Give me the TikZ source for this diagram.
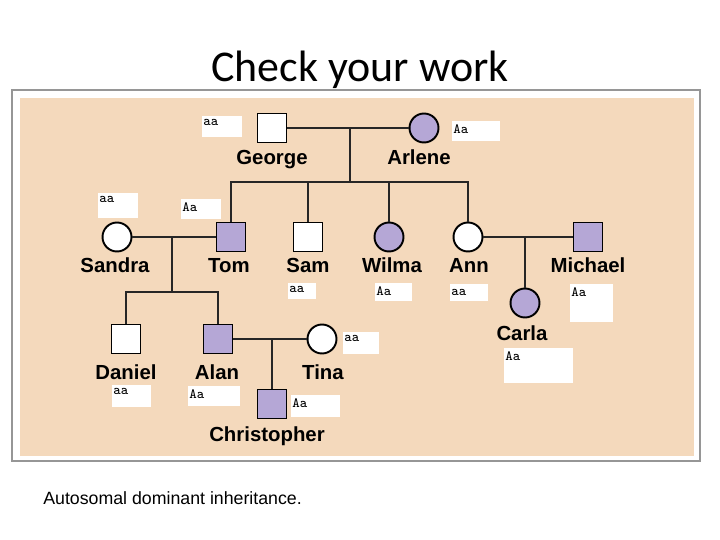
\documentclass[tikz,border=0pt]{standalone}
\usepackage{fontspec}
\setmainfont{Liberation Sans}
\newfontfamily\titlefont{Carlito}
\usetikzlibrary{positioning}
\definecolor{chartbg}{RGB}{244,217,188}
\definecolor{affect}{RGB}{181,167,214}
\definecolor{framegray}{RGB}{150,150,150}
\tikzset{
  male/.style={draw=black, line width=1.1pt, fill=white, minimum size=0.58cm, inner sep=0pt},
  female/.style={circle, draw=black, line width=1.1pt, fill=white, minimum size=0.58cm, inner sep=0pt},
  affected/.style={fill=affect},
  person/.style={font=\fontsize{11.6}{12}\selectfont\bfseries, inner sep=0pt, anchor=base},
  geno/.style={font=\fontsize{8}{8}\ttfamily, anchor=north west, inner sep=0pt},
  genobox/.style={fill=white},
  link/.style={line width=1.1pt, draw=black!85}
}
\begin{document}
\begin{tikzpicture}[x=0.02cm, y=-0.02cm]
    \useasboundingbox (0,0) rectangle (720,540);
    \draw[framegray, line width=1pt] (12,90) rectangle (700,461);
    \fill[chartbg] (20,98) rectangle (694,456);

    \node[font=\titlefont\fontsize{25}{30}\selectfont] (title) at (360,70) {Check your work};

    % generation I
    \node[male]            (george) at (272,128) {};
    \node[female,affected] (arlene) at (424,128) {};
    % generation II
    \node[female]          (sandra)  at (117,237) {};
    \node[male,affected]   (tom)     at (231,237) {};
    \node[male]            (sam)     at (308,237) {};
    \node[female,affected] (wilma)   at (389,237) {};
    \node[female]          (ann)     at (468,237) {};
    \node[male,affected]   (michael) at (588,237) {};
    % generation III
    \node[female,affected] (carla)  at (525,303) {};
    \node[male]            (daniel) at (126,339) {};
    \node[male,affected]   (alan)   at (218,339) {};
    \node[female]          (tina)   at (322,339) {};
    % generation IV
    \node[male,affected]   (christopher) at (272,404) {};

    \coordinate (gaMid) at (350,128);
    \coordinate (gaBar) at (350,182);
    \draw[link] (george) -- (arlene);
    \draw[link] (gaMid) -- (gaBar);
    \draw[link] (tom.north) |- (gaBar) -| (ann.north);
    \draw[link] (sam.north) -- (sam.north |- gaBar);
    \draw[link] (wilma.north) -- (wilma.north |- gaBar);

    \coordinate (stMid) at (172,237);
    \coordinate (stBar) at (172,292);
    \draw[link] (sandra) -- (tom);
    \draw[link] (stMid) -- (stBar);
    \draw[link] (daniel.north) |- (stBar) -| (alan.north);

    \coordinate (amMid) at (525,237);
    \draw[link] (ann) -- (michael);
    \draw[link] (amMid) -- (carla);

    \coordinate (atMid) at (272,339);
    \draw[link] (alan) -- (tina);
    \draw[link] (atMid) -- (christopher);

    % names
    \node[person] (georgeN)      at (272,165) {George};
    \node[person] (arleneN)      at (419,165) {Arlene};
    \node[person] (sandraN)      at (115,273) {Sandra};
    \node[person] (tomN)         at (229,273) {Tom};
    \node[person] (samN)         at (308,273) {Sam};
    \node[person] (wilmaN)       at (392,273) {Wilma};
    \node[person] (annN)         at (469,273) {Ann};
    \node[person] (michaelN)     at (588,273) {Michael};
    \node[person] (carlaN)       at (522,341) {Carla};
    \node[person] (danielN)      at (126,379) {Daniel};
    \node[person] (alanN)        at (217,379) {Alan};
    \node[person] (tinaN)        at (323,379) {Tina};
    \node[person] (christopherN) at (267,441) {Christopher};

    % genotypes
    \fill[genobox] (202,116) rectangle (242,137);
    \node[geno] (georgeG) at (203,119) {aa};
    \fill[genobox] (452,121) rectangle (500,141);
    \node[geno] (arleneG) at (453,124) {Aa};
    \fill[genobox] (98,193) rectangle (138,218);
    \node[geno] (sandraG) at (99,196) {aa};
    \fill[genobox] (181,199) rectangle (221,219);
    \node[geno] (tomG) at (182,202) {Aa};
    \fill[genobox] (288,283) rectangle (316,299);
    \node[geno] (samG) at (289,286) {aa};
    \fill[genobox] (375,283) rectangle (412,301);
    \node[geno] (wilmaG) at (376,286) {Aa};
    \fill[genobox] (450,284) rectangle (488,301);
    \node[geno] (annG) at (451,289) {aa};
    \fill[genobox] (570,284) rectangle (613,322);
    \node[geno] (michaelG) at (571,287) {Aa};
    \fill[genobox] (343,332) rectangle (379,354);
    \node[geno] (tinaG) at (344,335) {aa};
    \fill[genobox] (504,348) rectangle (573,383);
    \node[geno] (carlaG) at (505,351) {Aa};
    \fill[genobox] (112,385) rectangle (151,407);
    \node[geno] (danielG) at (113,388) {aa};
    \fill[genobox] (188,386) rectangle (240,406);
    \node[geno] (alanG) at (189,389) {Aa};
    \fill[genobox] (291,395) rectangle (340,417);
    \node[geno] (christopherG) at (292,398) {Aa};

    \node[font=\fontsize{10.1}{12}\selectfont, anchor=west, inner sep=0pt] (caption) at (43,498) {Autosomal dominant inheritance.};
\end{tikzpicture}
\end{document}
